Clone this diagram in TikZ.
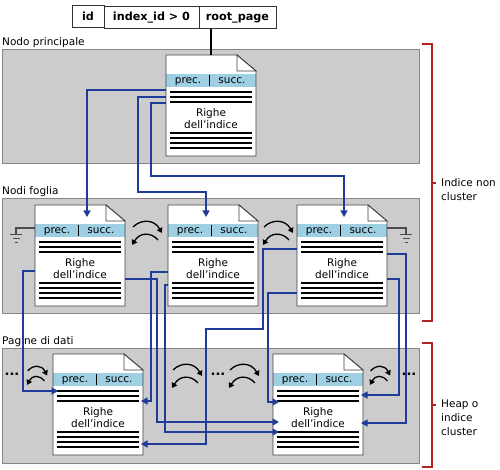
\documentclass[tikz,border=0pt]{standalone}
\usepackage{fontspec}
\setmainfont{DejaVu Sans}
\usepackage{tikz}
\usetikzlibrary{matrix,arrows.meta}

\definecolor{panelgray}{HTML}{CCCCCC}
\definecolor{panelline}{HTML}{858585}
\definecolor{hdrblue}{HTML}{9FCFE3}
\definecolor{linkblue}{HTML}{1E3C98}
\definecolor{bracketred}{HTML}{B22222}

\newcommand\idxpage[3]{%
  \node[pagebox] (#1) at (#2,#3) {};
  \fill[white] (#1.north west) -- ([xshift=-19pt]#1.north east) -- ([yshift=-16pt]#1.north east)
    -- (#1.south east) -- (#1.south west) -- cycle;
  \fill[hdrblue] ([yshift=-19pt]#1.north west) rectangle ([yshift=-32pt]#1.north east);
  \draw[pageline] (#1.north west) -- ([xshift=-19pt]#1.north east) -- ([yshift=-16pt]#1.north east)
    -- (#1.south east) -- (#1.south west) -- cycle;
  \draw[pageline, fill=white] ([xshift=-19pt]#1.north east) |- ([yshift=-16pt]#1.north east) -- cycle;
  \draw[line width=1pt] ([xshift=43pt,yshift=-20pt]#1.north west) -- ([xshift=43pt,yshift=-31pt]#1.north west);
  \node[pagetext, anchor=base] (#1-prec) at ([xshift=22pt,yshift=-28.6pt]#1.north west) {prec.};
  \node[pagetext, anchor=base] (#1-succ) at ([xshift=66pt,yshift=-28.6pt]#1.north west) {succ.};
  \foreach \r in {37,42,47,78,83,88,93}
    \draw[row] ([xshift=4pt,yshift=-\r pt]#1.north west) -- ([xshift=-4pt,yshift=-\r pt]#1.north east);
  \node[pagetext, align=center] (#1-rows) at ([yshift=-63.5pt]#1.north) {Righe\\dell’indice};
}

\tikzset{
  swap/.pic={
    \draw[swaparc] (1,5) .. controls (9,-3) and (22,-3) .. (30,11);
    \draw[swaparc] (26,18) .. controls (19,10) and (8,10) .. (0,23);
  }
}

\begin{document}
\begin{tikzpicture}[x=1pt, y=-1pt,
  font=\fontsize{10.5}{12.5}\selectfont,
  panel/.style={draw=panelline, fill=panelgray, line width=0.9pt, anchor=north west,
    minimum width=417pt, inner sep=0pt},
  panellabel/.style={anchor=south west, inner sep=0pt},
  pagebox/.style={minimum width=90pt, minimum height=101pt, inner sep=0pt, outer sep=0pt, anchor=north west},
  pageline/.style={draw=black!75, line width=0.9pt},
  pagetext/.style={inner sep=0pt, font=\fontsize{10.5}{12.5}\selectfont},
  row/.style={line width=1.6pt},
  link/.style={draw=linkblue, line width=1.3pt, -{Triangle[length=6.5pt,width=7pt]}},
  swaparc/.style={line width=1.3pt, -{Triangle[length=5pt,width=6pt]}},
  ground/.style={draw=black!70, line width=1.2pt},
  bracket/.style={draw=bracketred, line width=1.2pt},
  sidetext/.style={anchor=north west, align=left, inner sep=0pt, font=\fontsize{10.5}{14}\selectfont},
  dots/.style={inner sep=0pt, font=\bfseries\fontsize{13}{13}\selectfont}]

  \useasboundingbox (0,0) rectangle (500,470);

  \node[panel, minimum height=114pt] (pnlRoot) at (2,49) {};
  \node[panel, minimum height=115pt] (pnlLeaf) at (2,198) {};
  \node[panel, minimum height=115pt] (pnlData) at (2,348) {};
  \node[panellabel] (lblRoot) at ([yshift=1pt]pnlRoot.north west) {Nodo principale};
  \node[panellabel] (lblLeaf) at ([yshift=1pt]pnlLeaf.north west) {Nodi foglia};
  \node[panellabel] (lblData) at ([yshift=1pt]pnlData.north west) {Pagine di dati};

  \matrix (tbl) [matrix of nodes, anchor=north west, column sep=-0.9pt,
    nodes={draw=black!80, line width=0.9pt, minimum height=22pt, inner sep=0pt, font=\bfseries\fontsize{11.2}{12}\selectfont},
    column 1/.style={nodes={minimum width=32pt}},
    column 2/.style={nodes={minimum width=95pt}},
    column 3/.style={nodes={minimum width=77pt}}] at (68,1)
  {
    id & index\_id > 0 & root\_page \\
  };

  \idxpage{root}{166}{55}
  \idxpage{leafA}{35}{205}
  \idxpage{leafB}{168}{205}
  \idxpage{leafC}{297}{205}
  \idxpage{dataA}{53}{354}
  \idxpage{dataB}{273}{354}

  \draw[line width=1.3pt] (root.north) -- (root.north |- tbl-1-3.south);

  \draw[link] ([yshift=-35pt]root.north west) -| ([xshift=52pt,yshift=-12pt]leafA.north west);
  \draw[link] ([yshift=-42pt]root.north west) -- ++(-28,0) -- ++(0,95) -| ([xshift=38pt,yshift=-12pt]leafB.north west);
  \draw[link] ([yshift=-48pt]root.north west) -- ++(-15,0) -- ++(0,73) -| ([xshift=47pt,yshift=-12pt]leafC.north west);

  \draw[link] ([yshift=-66pt]leafA.north west) -- ++(-12,0) |- ([xshift=5pt,yshift=-37pt]dataA.north west);
  \draw[link] ([yshift=-74pt]leafA.north east) -- ++(32,0) |- ([xshift=6pt,yshift=-68pt]dataB.north west);
  \draw[link] ([yshift=-67pt]leafB.north west) -- ++(-17,0) |- ([xshift=-2pt,yshift=-47pt]dataA.north east);
  \draw[link] ([yshift=-80pt]leafB.north west) -- ++(-3,0) |- ([xshift=6pt,yshift=-78pt]dataB.north west);
  \draw[link] ([yshift=-44pt]leafC.north west) -- ++(-34,0) -- ++(0,80) -- ++(-57,0) |- ([xshift=-2pt,yshift=-90pt]dataA.north east);
  \draw[link] ([yshift=-88pt]leafC.north west) -- ++(-29,0) |- ([xshift=6pt,yshift=-48pt]dataB.north west);
  \draw[link] ([yshift=-49pt]leafC.north east) -- ++(19,0) |- ([xshift=-2pt,yshift=-69pt]dataB.north east);
  \draw[link] ([yshift=-74pt]leafC.north east) -- ++(12,0) |- ([xshift=-2pt,yshift=-41pt]dataB.north east);

  \draw[ground] ([yshift=-23pt]leafA.north west) -- ++(-19,0) -- ++(0,6) coordinate (gndA);
  \draw[ground] ([yshift=-23pt]leafC.north east) -- ++(19,0) -- ++(0,6) coordinate (gndC);
  \foreach \g in {gndA,gndC}
    \draw[ground, line width=0.8pt] ([xshift=-6pt]\g) -- ([xshift=6pt]\g)
      ([xshift=-3.5pt,yshift=-4pt]\g) -- ([xshift=3.5pt,yshift=-4pt]\g)
      ([xshift=-1.5pt,yshift=-8pt]\g) -- ([xshift=1.5pt,yshift=-8pt]\g);

  \pic (swapAB) at (132,222) {swap};
  \pic (swapBC) at (263,222) {swap};
  \pic[xscale=0.67, yscale=0.78] (swapL) at (27,367) {swap};
  \pic (swapML) at (172,365) {swap};
  \pic (swapMR) at (229,365) {swap};
  \pic[xscale=0.67, yscale=0.78] (swapR) at (370,367) {swap};
  \node[dots] (dotsL) at (12,374) {...};
  \node[dots] (dotsM) at (218,374) {...};
  \node[dots] (dotsR) at (409,374) {...};

  \draw[bracket] (422,44) -| (432,321) -- (422,321);
  \draw[bracket] (432,183) -- (436,183);
  \node[sidetext] (lblNC) at (441,178) {Indice non\\cluster};
  \draw[bracket] (422,343) -| (432,467) -- (422,467);
  \draw[bracket] (432,405) -- (436,405);
  \node[sidetext] (lblHeap) at (441,400) {Heap o\\indice\\cluster};
\end{tikzpicture}
\end{document}
